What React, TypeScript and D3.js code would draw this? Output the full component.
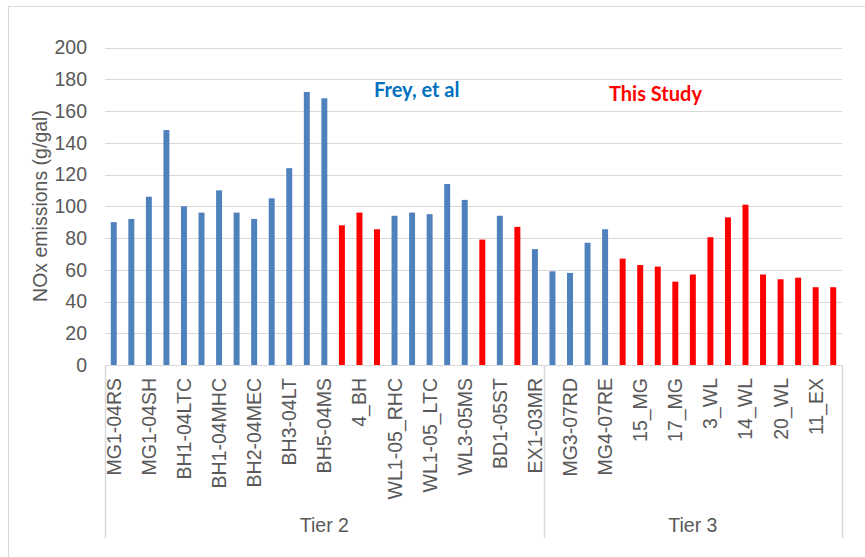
import React from "react";
import * as d3 from "d3";

// Categories (every other label is shown on the axis; hidden ones are blank)
const categories: string[] = [
  "MG1-04RS", "", "MG1-04SH", "", "BH1-04LTC", "", "BH1-04MHC", "", "BH2-04MEC", "",
  "BH3-04LT", "", "BH5-04MS", "", "4_BH", "", "WL1-05_RHC", "", "WL1-05_LTC", "",
  "WL3-05MS", "", "BD1-05ST", "", "EX1-03MR",
  "", "MG3-07RD", "", "MG4-07RE", "", "15_MG", "", "17_MG", "", "3_WL", "", "14_WL", "", "20_WL", "", "11_EX", "",
];

const values: number[] = [
  90, 92, 106, 148, 100, 96, 110, 96, 92, 105,
  124, 172, 168, 88, 96, 85.5, 94, 96, 95, 114,
  104, 79, 94, 87, 73,
  59, 58, 77, 85.5, 67, 63, 62, 52.5, 57, 80.5, 93, 101, 57, 54, 55, 49, 49,
];

// F = Frey, et al ; S = This Study
const source: string[] = [
  "F", "F", "F", "F", "F", "F", "F", "F", "F", "F",
  "F", "F", "F", "S", "S", "S", "F", "F", "F", "F",
  "F", "S", "F", "S", "F",
  "F", "F", "F", "F", "S", "S", "S", "S", "S", "S", "S", "S", "S", "S", "S", "S", "S",
];

const tiers: { name: string; count: number }[] = [
  { name: "Tier 2", count: 25 },
  { name: "Tier 3", count: 17 },
];

const yTicks: number[] = [0, 20, 40, 60, 80, 100, 120, 140, 160, 180, 200];

const W = 865;
const H = 557;
const left = 105;
const right = 842;
const top = 47.5;
const bottom = 365;
const gridColor = "#D9D9D9";
const textColor = "#595959";
const font = "Arial, 'Liberation Sans', sans-serif";
const fs = 19.5;

export default function App() {
  const idx = values.map((_, i) => i);
  const x = d3.scaleBand<number>().domain(idx).range([left, right]).paddingInner(0).paddingOuter(0);
  const y = d3.scaleLinear().domain([0, 200]).range([bottom, top]);
  const bw = x.bandwidth() * 0.34;
  const colorOf = (s: string) => (s === "S" ? "#FF0000" : "#4F81BD");

  // tier boundaries
  let acc = 0;
  const tierSpans = tiers.map((t) => {
    const start = x(acc)!;
    acc += t.count;
    const end = acc < values.length ? x(acc)! : right;
    return { ...t, start, end };
  });

  return (
    <svg
      width={W}
      height={H}
      style={{ position: "absolute", left: 0, top: 0, background: "#fff" }}
    >
      <rect x={8.5} y={6.5} width={W + 10} height={H + 10} fill="#fff" stroke={gridColor} strokeWidth={1} />
      {/* gridlines */}
      {yTicks.map((t) => (
        <line
          key={t}
          x1={left}
          x2={right}
          y1={Math.round(y(t)) + 0.5}
          y2={Math.round(y(t)) + 0.5}
          stroke={gridColor}
          strokeWidth={1.2}
        />
      ))}
      {/* y tick labels */}
      {yTicks.map((t) => (
        <text
          key={"l" + t}
          x={87}
          y={y(t)}
          dy="0.35em"
          textAnchor="end"
          fontFamily={font}
          fontSize={fs}
          fill={textColor}
        >
          {t}
        </text>
      ))}
      {/* y title */}
      <text
        transform={`translate(47,206) rotate(-90)`}
        textAnchor="middle"
        fontFamily={font}
        fontSize={fs}
        fill={textColor}
      >
        NOx emissions (g/gal)
      </text>
      {/* bars */}
      {values.map((v, i) => (
        <rect
          key={"b" + i}
          x={x(i)! + (x.bandwidth() - bw) / 2}
          y={y(v)}
          width={bw}
          height={y(0) - y(v)}
          fill={colorOf(source[i])}
        />
      ))}
      {/* tier separators */}
      {[left, ...tierSpans.map((t) => t.end)].map((px, i) => (
        <line
          key={"sep" + i}
          x1={Math.round(px) + 0.5}
          x2={Math.round(px) + 0.5}
          y1={bottom}
          y2={538}
          stroke={gridColor}
          strokeWidth={1.5}
        />
      ))}
      {/* category labels */}
      {categories.map((c, i) =>
        c ? (
          <text
            key={"c" + i}
            transform={`translate(${x(i)! + x.bandwidth() / 2 + 7},378) rotate(-90)`}
            textAnchor="end"
            fontFamily={font}
            fontSize={fs}
            fill={textColor}
          >
            {c}
          </text>
        ) : null
      )}
      {/* tier labels */}
      {tierSpans.map((t) => (
        <text
          key={t.name}
          x={(t.start + t.end) / 2}
          y={532}
          textAnchor="middle"
          fontFamily={font}
          fontSize={fs}
          fill={textColor}
        >
          {t.name}
        </text>
      ))}
      {/* annotations */}
      <text x={374} y={97} fontFamily="Lato, 'Open Sans', sans-serif" fontWeight="bold" fontSize={20} fill="#0070C0">
        Frey, et al
      </text>
      <text x={609} y={101} fontFamily="Lato, 'Open Sans', sans-serif" fontWeight="bold" fontSize={20} fill="#FF0000">
        This Study
      </text>
    </svg>
  );
}
